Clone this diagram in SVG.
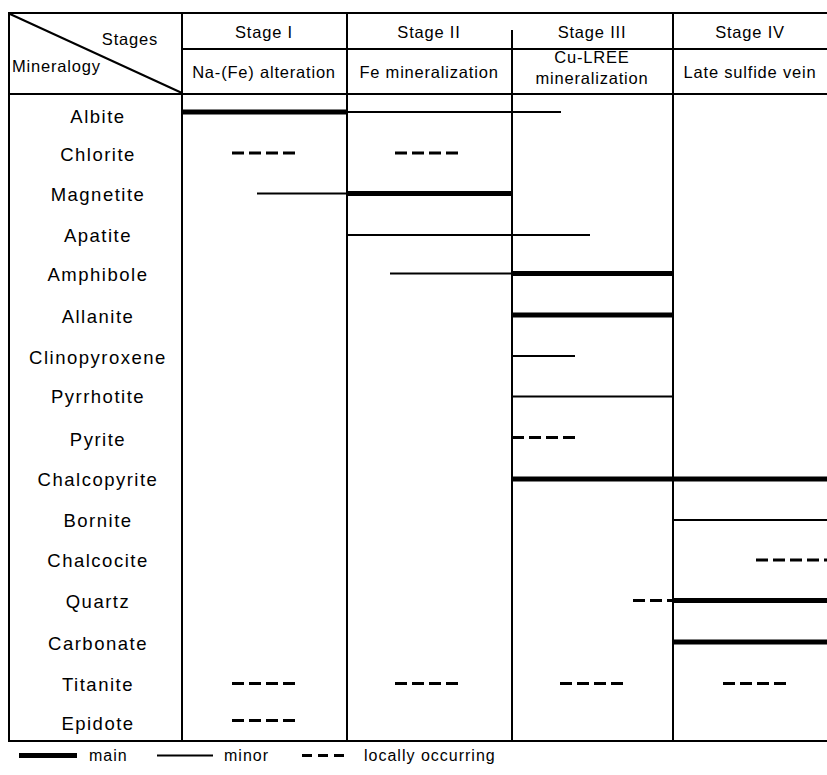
<svg xmlns="http://www.w3.org/2000/svg" width="827" height="775" viewBox="0 0 827 775">
<style>
.grid{stroke:#000;stroke-width:2;fill:none}
.main{stroke:#000;stroke-width:5;fill:none}
.minor{stroke:#000;stroke-width:2;fill:none}
.local{stroke:#000;stroke-width:3;stroke-dasharray:12 5;fill:none}
text{font-family:"Liberation Sans",Arial,sans-serif;fill:#000}
.min{font-size:18.5px;letter-spacing:1.5px;text-anchor:middle}
.hd{font-size:16.5px;letter-spacing:0.8px;text-anchor:middle}
.lg{font-size:16px;letter-spacing:1px}
</style>
<rect width="827" height="775" fill="#fff"/>
<g id="table">
<line class="grid" x1="8" y1="13" x2="827" y2="13"/>
<line class="grid" x1="8" y1="741" x2="827" y2="741"/>
<line class="grid" x1="9" y1="12" x2="9" y2="742"/>
<line class="grid" x1="182" y1="13" x2="182" y2="741"/>
<line class="grid" x1="347" y1="13" x2="347" y2="741"/>
<line class="grid" x1="512" y1="30" x2="512" y2="741"/>
<line class="grid" x1="673" y1="13" x2="673" y2="741"/>
<line class="grid" x1="182" y1="49" x2="827" y2="49"/>
<line class="grid" x1="8" y1="94" x2="827" y2="94"/>
<line class="grid" x1="10" y1="14" x2="182" y2="93"/>
</g>
<g id="header">
<text class="hd" x="158" y="45" text-anchor="end" style="text-anchor:end">Stages</text>
<text class="hd" x="12" y="72" style="text-anchor:start">Mineralogy</text>
<text class="hd" x="264" y="38">Stage I</text>
<text class="hd" x="429" y="38">Stage II</text>
<text class="hd" x="592" y="38">Stage III</text>
<text class="hd" x="750" y="38">Stage IV</text>
<text class="hd" x="264" y="78">Na-(Fe) alteration</text>
<text class="hd" x="429" y="78">Fe mineralization</text>
<text class="hd" x="592" y="63">Cu-LREE</text>
<text class="hd" x="592" y="84">mineralization</text>
<text class="hd" x="750" y="78">Late sulfide vein</text>
</g>
<g id="minerals">
<text class="min" x="98" y="123">Albite</text>
<text class="min" x="98" y="161">Chlorite</text>
<text class="min" x="98" y="201">Magnetite</text>
<text class="min" x="98" y="242">Apatite</text>
<text class="min" x="98" y="281">Amphibole</text>
<text class="min" x="98" y="323">Allanite</text>
<text class="min" x="98" y="364">Clinopyroxene</text>
<text class="min" x="98" y="403">Pyrrhotite</text>
<text class="min" x="98" y="446">Pyrite</text>
<text class="min" x="98" y="486">Chalcopyrite</text>
<text class="min" x="98" y="527">Bornite</text>
<text class="min" x="98" y="567">Chalcocite</text>
<text class="min" x="98" y="608">Quartz</text>
<text class="min" x="98" y="650">Carbonate</text>
<text class="min" x="98" y="691">Titanite</text>
<text class="min" x="98" y="730">Epidote</text>
</g>
<g id="connectors">
<line class="main" x1="182" y1="112" x2="347" y2="112"/>
<line class="minor" x1="347" y1="112" x2="561" y2="112"/>
<line class="local" x1="232" y1="153" x2="298" y2="153"/>
<line class="local" x1="395" y1="153" x2="461" y2="153"/>
<line class="minor" x1="257" y1="193.5" x2="347" y2="193.5"/>
<line class="main" x1="347" y1="193.5" x2="512" y2="193.5"/>
<line class="minor" x1="347" y1="235" x2="590" y2="235"/>
<line class="minor" x1="390" y1="273.5" x2="512" y2="273.5"/>
<line class="main" x1="512" y1="273.5" x2="673" y2="273.5"/>
<line class="main" x1="512" y1="315" x2="673" y2="315"/>
<line class="minor" x1="512" y1="356" x2="575" y2="356"/>
<line class="minor" x1="512" y1="396.5" x2="673" y2="396.5"/>
<line class="local" x1="512" y1="437.5" x2="578" y2="437.5"/>
<line class="main" x1="512" y1="479" x2="827" y2="479"/>
<line class="minor" x1="673" y1="520" x2="827" y2="520"/>
<line class="local" x1="756" y1="560" x2="827" y2="560"/>
<line class="local" x1="633" y1="600.5" x2="673" y2="600.5"/>
<line class="main" x1="673" y1="600.5" x2="827" y2="600.5"/>
<line class="main" x1="673" y1="642" x2="827" y2="642"/>
<line class="local" x1="232" y1="683.5" x2="298" y2="683.5"/>
<line class="local" x1="395" y1="683.5" x2="461" y2="683.5"/>
<line class="local" x1="560" y1="683.5" x2="626" y2="683.5"/>
<line class="local" x1="723" y1="683.5" x2="789" y2="683.5"/>
<line class="local" x1="232" y1="720.5" x2="298" y2="720.5"/>
</g>
<g id="legend">
<line class="main" x1="19" y1="755.5" x2="77" y2="755.5"/>
<text class="lg" x="89" y="761">main</text>
<line class="minor" x1="157" y1="755.5" x2="213" y2="755.5"/>
<text class="lg" x="224" y="761">minor</text>
<line class="local" x1="302" y1="755.5" x2="344" y2="755.5" style="stroke-dasharray:10 6"/>
<text class="lg" x="364" y="761">locally occurring</text>
</g>
</svg>
